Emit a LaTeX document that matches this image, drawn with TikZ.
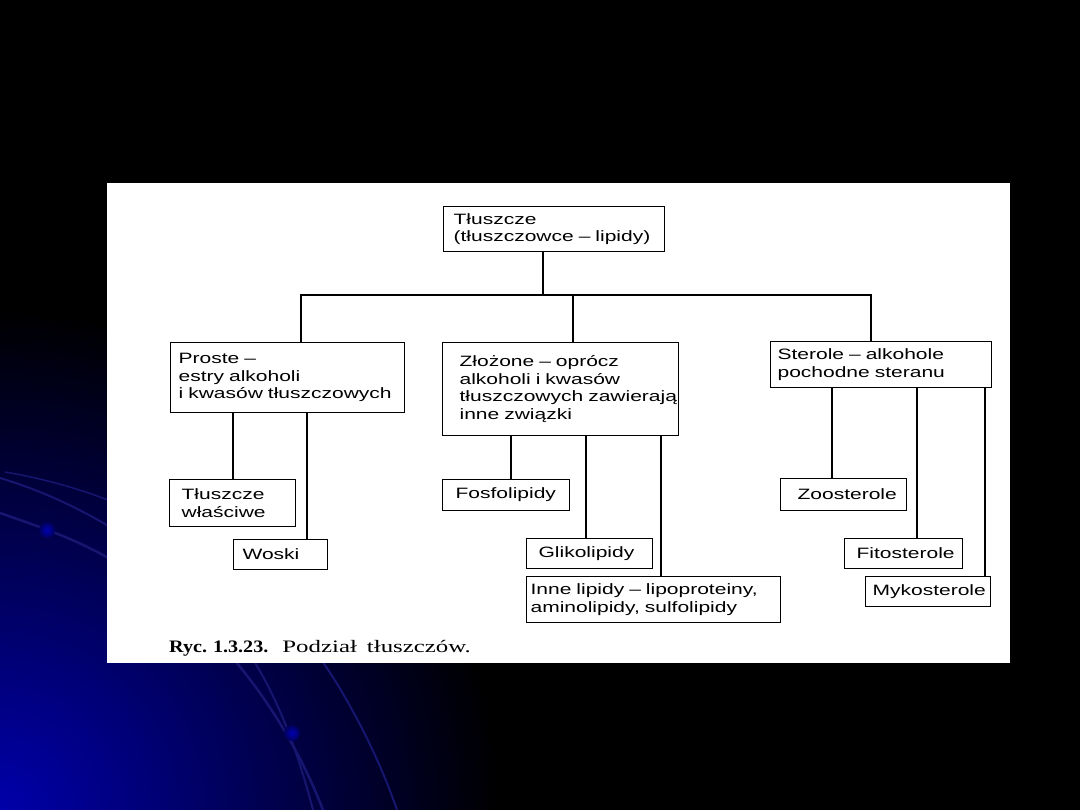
\documentclass[tikz,border=0pt]{standalone}
\usepackage{fontspec}
\newfontfamily\boxfont[FakeStretch=1.4]{Liberation Sans}
\newfontfamily\capfont[FakeStretch=1.15]{Liberation Serif}
\newcommand\boxtext{\boxfont\fontsize{15}{17.5}\selectfont\spaceskip=9pt\relax}
\newcommand\captext{\capfont\fontsize{17.5}{19}\selectfont}
\definecolor{glowblue}{RGB}{0,0,170}
\definecolor{arcblue}{RGB}{22,22,112}
\pgfdeclareradialshading{cornerglow}{\pgfpoint{0bp}{0bp}}{color(0bp)=(glowblue); color(25bp)=(black); color(50bp)=(black)}

\begin{document}
\begin{tikzpicture}[x=1pt,y=-1pt,
  box/.style={draw,line width=1.2pt,anchor=north west,align=left,inner ysep=0pt,font=\boxtext},
  link/.style={line width=1.2pt}]
\useasboundingbox (0,0) rectangle (1080,810);
% slide background
\fill[black] (0,0) rectangle (1080,810);
\begin{scope}
\clip (0,0) rectangle (1080,810);
\shade[shading=cornerglow] (0,810) circle (500);
\end{scope}
\draw[arcblue,line width=1.5pt] (5,472) .. controls (40,478) and (80,488) .. (120,505);
\draw[arcblue,line width=2pt] (0,478) .. controls (40,490) and (80,508) .. (120,533);
\draw[arcblue,line width=2.5pt] (0,513) .. controls (40,527) and (80,540) .. (120,565);
\draw[arcblue,line width=2.5pt] (230,655) .. controls (265,695) and (300,750) .. (323,810);
\draw[arcblue,line width=2pt] (250,655) .. controls (280,700) and (300,760) .. (313,810);
\draw[arcblue,line width=2pt] (318,655) .. controls (350,700) and (380,760) .. (397,810);
\shade[inner color=blue!70!black,outer color=blue!35!black] (47,530) circle (8);
\shade[inner color=blue!70!black,outer color=blue!35!black] (292,733) circle (8);
% figure panel
\fill[white] (107,183) rectangle (1010,663);

\node[box,inner xsep=10pt,text width=201pt,minimum height=45pt] (root) at (443,206)
  {Tłuszcze\\\mbox{(tłuszczowce – lipidy)}};
\node[box,inner xsep=8pt,text width=218pt,minimum height=70pt] (proste) at (170,342)
  {Proste –\\estry alkoholi\\\mbox{i kwasów tłuszczowych}};
\node[box,inner xsep=17pt,text width=202pt,minimum height=93pt] (zlozone) at (442,342)
  {Złożone – oprócz\\alkoholi i kwasów\\\mbox{tłuszczowych zawierają}\\inne związki};
\node[box,inner xsep=7pt,text width=207pt,minimum height=46pt] (sterole) at (770,341)
  {Sterole – alkohole\\pochodne steranu};

\node[box,inner xsep=12pt,text width=102pt,minimum height=47pt] (wlasciwe) at (169,479) {Tłuszcze\\właściwe};
\node[box,inner xsep=9pt,text width=76pt,minimum height=30pt] (woski) at (233,539) {Woski};
\node[box,inner xsep=13pt,text width=101pt,minimum height=31pt] (fosfo) at (442,479) {\mbox{Fosfolipidy}};
\node[box,inner xsep=12pt,text width=102pt,minimum height=30pt] (gliko) at (526,538) {\mbox{Glikolipidy}};
\node[box,inner xsep=4pt,text width=246pt,minimum height=46pt] (inne) at (526,576)
  {\mbox{Inne lipidy – lipoproteiny,}\\\mbox{aminolipidy, sulfolipidy}};
\node[box,inner xsep=17pt,text width=92pt,minimum height=32pt] (zoo) at (780,478) {\mbox{Zoosterole}};
\node[box,inner xsep=12pt,text width=94pt,minimum height=30pt] (fito) at (844,538) {\mbox{Fitosterole}};
\node[box,inner xsep=7pt,text width=111pt,minimum height=30pt] (myko) at (865,576) {\mbox{Mykosterole}};

\node[anchor=base west,inner sep=0pt,font=\captext] (caption) at (169,652)
  {\textbf{Ryc.\hspace{6pt}1.3.23.}\hspace{14pt}{\addfontfeature{FakeStretch=1.42}Podział\hspace{10pt}tłuszczów.}};

% tree lines
\coordinate (b0) at (543,295);
\coordinate (b1) at (301,295);
\coordinate (b2) at (573,295);
\coordinate (b3) at (871,295);
\draw[link] (root.south -| b0) -- (b0);
\draw[link] (proste.north -| b1) -- (b1) -- (b3) -- (sterole.north -| b3);
\draw[link] (b2) -- (zlozone.north -| b2);
\foreach \kid/\dx/\up in {wlasciwe/64/proste, woski/74/proste, fosfo/69/zlozone,
    gliko/60/zlozone, inne/135/zlozone, zoo/52/sterole, fito/73/sterole, myko/120/sterole}
  \draw[link] ([xshift=\dx pt]\kid.north west) coordinate (k) -- (k |- \up.south);
\end{tikzpicture}
\end{document}
